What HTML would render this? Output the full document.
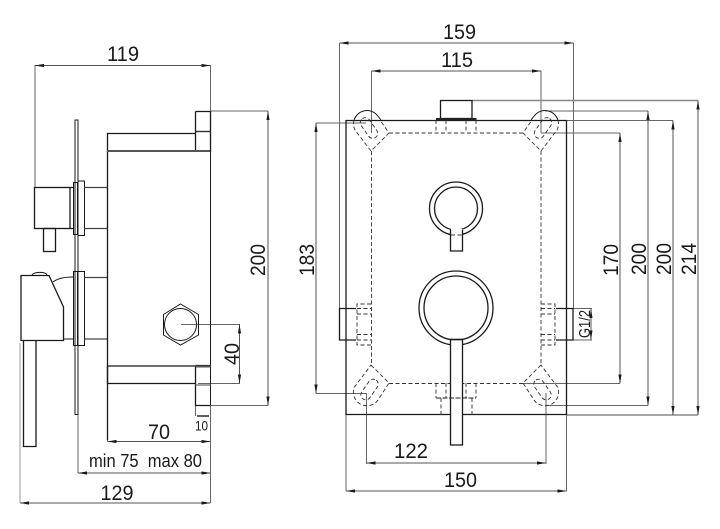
<!DOCTYPE html>
<html>
<head>
<meta charset="utf-8">
<style>
html,body{margin:0;padding:0;background:#fff}
svg{display:block}
text{font-family:"Liberation Sans",sans-serif;fill:#1a1a1a}
.k{stroke:#1a1a1a;stroke-width:1;fill:none}
.h{stroke:#1a1a1a;stroke-width:1.3;fill:none}
.g{stroke:#666;stroke-width:1;fill:none}
.d{stroke:#333;stroke-width:.9;fill:none;stroke-dasharray:4 2.5}
.m{stroke:#555;stroke-width:1;fill:none;marker-start:url(#a);marker-end:url(#a)}
</style>
</head>
<body>
<svg width="720" height="529" viewBox="0 0 720 529" xmlns="http://www.w3.org/2000/svg">
<defs>
<marker id="a" markerUnits="userSpaceOnUse" markerWidth="9" markerHeight="4" refX="9" refY="2" orient="auto-start-reverse" viewBox="0 0 9 4">
<polygon points="9,2 0,0.4 0,3.6" fill="#1a1a1a"/>
</marker>
</defs>

<!-- LEFT VIEW extension lines -->
<path class="g" d="M35 65V187M210.5 65V111M210.5 111H268M107.5 383V441.5M210.5 405V503M78 414V473M20 343V503M181 324.5H240M198 383.5H240M210 405.5H268M195.5 405V416"/>

<!-- dims left -->
<path class="m" d="M35 65.5H210.5"/>
<path class="m" d="M268 111V405.5"/>
<path class="m" d="M239.5 324.5V383.5"/>
<path class="m" d="M107.5 441.5H210.5"/>
<path class="m" d="M78 473H210.5"/>
<path class="m" d="M20 503H210.5"/>
<path d="M197 416H209" stroke="#1a1a1a" stroke-width="1.4"/>

<!-- LEFT VIEW body -->
<path class="h" d="M107.5 440V133.5H195.5M195.5 111.5H210.5V152M195.5 111.5V152"/>
<path d="M107 151H210" stroke="#555" stroke-width="2" fill="none"/>
<path d="M195.5 131.5H210.5" stroke="#333" stroke-width="1.4"/>
<path class="k" d="M210.5 152V405"/>
<path class="h" d="M107.5 366H195.5M107.5 366V383.5H195.5M195.5 365.5H210.5M195.5 365.5V405.5H210.5"/>
<path d="M195.5 366.5H210.5" stroke="#555" stroke-width="2"/>
<path d="M195.5 385H210.5" stroke="#666" stroke-width="1.2"/>

<!-- plate -->
<rect class="k" x="75" y="120" width="3" height="294.5"/>
<rect class="k" x="73.5" y="182.5" width="4" height="52"/>
<rect class="k" x="78" y="181" width="6.5" height="54.5" style="fill:#fff"/>
<rect class="k" x="73.5" y="271.5" width="4" height="74"/>
<rect class="k" x="78" y="271.5" width="6.5" height="74" style="fill:#fff"/>
<path d="M84.5 187.5H107M84.5 228.5H107" stroke="#444" stroke-width="1.2"/>
<path d="M84.5 277.5H107M84.5 339H107" stroke="#444" stroke-width="1.2"/>

<!-- upper handle -->
<rect class="h" x="34.5" y="187.5" width="35.5" height="41"/>
<path class="h" d="M70 187.5H73.5M70 228.5H73.5"/>
<rect class="h" x="43.5" y="228.5" width="12" height="23"/>

<!-- lower handle -->
<path class="h" d="M21 275.5H49L63.5 307V340.5H21Z"/>
<path class="k" d="M32 275C34 271.5 46 271.5 47 275"/>
<path class="k" d="M53 282C58 278 65 277 73 277M64 339H73"/>
<path class="h" d="M23.5 340.5V446.5H36V340.5"/>
<path d="M20 343V503" stroke="#999" stroke-width="1"/>

<!-- hex -->
<polygon class="k" points="180.5,304 198.5,314.5 198.5,335 180.5,345 163.5,335 163.5,314.5"/>
<circle class="k" cx="180.5" cy="324.5" r="16"/>

<!-- text left -->
<text x="107" y="61" font-size="21" textLength="32" lengthAdjust="spacingAndGlyphs">119</text>
<text x="148" y="439" font-size="21" textLength="22" lengthAdjust="spacingAndGlyphs">70</text>
<text x="89" y="467" font-size="18.5" textLength="113" lengthAdjust="spacingAndGlyphs" xml:space="preserve">min 75  max 80</text>
<text x="100.5" y="500" font-size="21" textLength="33" lengthAdjust="spacingAndGlyphs">129</text>
<text x="195" y="430.5" font-size="14" textLength="13" lengthAdjust="spacingAndGlyphs">10</text>
<text transform="translate(265 276) rotate(-90)" font-size="21" textLength="32" lengthAdjust="spacingAndGlyphs">200</text>
<text transform="translate(239 365) rotate(-90)" font-size="21" textLength="22" lengthAdjust="spacingAndGlyphs">40</text>

<!-- RIGHT VIEW extension lines -->
<path class="g" d="M339.5 43V308.5M573.5 43V308.5M371.5 71V133M541 71V133M545 111H648M566 120.5H673M316 123H366M541 133H620M523 383.5H620M316 393.5H366M545 405.5H648M366.5 393V464M546 393V464M346 414V491M566.5 414V491M573 308.5H592M573 340H592"/>
<path d="M472 100.5H698M566 415H698" stroke="#888" stroke-width="1.4" fill="none"/>

<!-- dims right -->
<path class="m" d="M339.5 43H573.5"/>
<path class="m" d="M371.5 71H541"/>
<path class="m" d="M316 123V393.5"/>
<path class="m" d="M620 133V383.5"/>
<path class="m" d="M648 111V405.5"/>
<path class="m" d="M673 120.5V415"/>
<path class="m" d="M698 100.5V415"/>
<path class="m" d="M366.5 463H546"/>
<path class="m" d="M346 491H566.5"/>
<path d="M591 308.5V340" stroke="#555"/>
<path d="M591 308.5L589.5 318H592.5ZM591 340L589.5 330.5H592.5Z" fill="#1a1a1a"/>

<!-- main box -->
<path class="h" d="M346 120.5H566.5V414.5H346Z"/>

<!-- dashed inner frame -->
<path class="d" d="M389 133H523M371.5 151V365M541 151V365M389 383.5H523"/>

<!-- slots -->
<path class="d" d="M354.1 120A13.5 13.5 0 0 0 355 130L371 151L389 133L380 120"/>
<path class="k" d="M354.1 120A13.5 13.5 0 0 1 377 115L381 120"/>
<rect class="d" x="-5" y="-11.5" width="10" height="23" rx="5" transform="translate(369 128) rotate(-35)"/>

<path class="d" d="M557.9 120A13.5 13.5 0 0 1 557 130L541 151L523 133L532 120"/>
<path class="k" d="M557.9 120A13.5 13.5 0 0 0 535 115L531 120"/>
<rect class="d" x="-5" y="-11.5" width="10" height="23" rx="5" transform="translate(543 128) rotate(35)"/>

<path class="d" d="M371 365L389 383L378 400A13.5 13.5 0 0 1 354.5 387Z"/>
<rect class="d" x="-5" y="-11.5" width="10" height="23" rx="5" transform="translate(369.5 389.5) rotate(35)"/>

<path class="d" d="M541 365L523 383L534 400A13.5 13.5 0 0 0 557.5 387Z"/>
<rect class="d" x="-5" y="-11.5" width="10" height="23" rx="5" transform="translate(542.5 389.5) rotate(-35)"/>

<!-- top pipe -->
<rect class="h" x="440.5" y="100.5" width="31.5" height="18"/>
<rect x="436" y="118" width="40.5" height="2.5" fill="#222"/>
<path class="d" d="M436 120V133M446 120V133M466 120V133M476 120V133"/>

<!-- side fittings left -->
<path class="h" d="M356 308.5H339.5V340H356"/>
<path class="d" d="M371 304H357V345H371M357 308.5H371M357 314H371M357 334.5H371M357 340H371"/>
<!-- side fittings right -->
<path class="h" d="M556 308.5H573V340H556"/>
<path class="d" d="M541 304H555V345H541M541 308.5H555M541 314H555M541 334.5H555M541 340H555"/>

<!-- small handle -->
<circle class="h" cx="456" cy="208.5" r="26.5" stroke-width="1.2"/>
<circle class="h" cx="456" cy="208.5" r="21.5" stroke-width="1.2"/>
<rect x="451" y="229" width="11" height="8" fill="#fff"/>
<path class="h" d="M450.5 230V251H462.5V230"/>
<path class="d" d="M451 235H462"/>

<!-- big handle -->
<circle class="h" cx="456" cy="308" r="37" stroke-width="1.2"/>
<circle class="h" cx="456" cy="308" r="32" stroke-width="1.2"/>
<rect x="450.5" y="339.5" width="12" height="105.5" fill="#fff" stroke="#1a1a1a" stroke-width="1.3"/>
<path d="M450 339.5H463" stroke="#1a1a1a" stroke-width="1.5"/>

<!-- bottom fitting, drawn over the stem -->
<path class="d" d="M436 383V398M446 383V398M466 383V398M476 383V398M441 398V415M472 398V415"/>
<path d="M436 398H476" stroke="#222" stroke-dasharray="5 1.5"/>

<!-- text right -->
<text x="443" y="39" font-size="21" textLength="33" lengthAdjust="spacingAndGlyphs">159</text>
<text x="441" y="67" font-size="21" textLength="32" lengthAdjust="spacingAndGlyphs">115</text>
<text x="394" y="458" font-size="21" textLength="34" lengthAdjust="spacingAndGlyphs">122</text>
<text x="444" y="487" font-size="21" textLength="33" lengthAdjust="spacingAndGlyphs">150</text>
<text transform="translate(314 276) rotate(-90)" font-size="21" textLength="32" lengthAdjust="spacingAndGlyphs">183</text>
<text transform="translate(618 276) rotate(-90)" font-size="21" textLength="32" lengthAdjust="spacingAndGlyphs">170</text>
<text transform="translate(646 275) rotate(-90)" font-size="21" textLength="32" lengthAdjust="spacingAndGlyphs">200</text>
<text transform="translate(671 275) rotate(-90)" font-size="21" textLength="32" lengthAdjust="spacingAndGlyphs">200</text>
<text transform="translate(696 275) rotate(-90)" font-size="21" textLength="32" lengthAdjust="spacingAndGlyphs">214</text>
<text transform="translate(590 338) rotate(-90)" font-size="16" textLength="28" lengthAdjust="spacingAndGlyphs">G1/2</text>
</svg>
</body>
</html>
